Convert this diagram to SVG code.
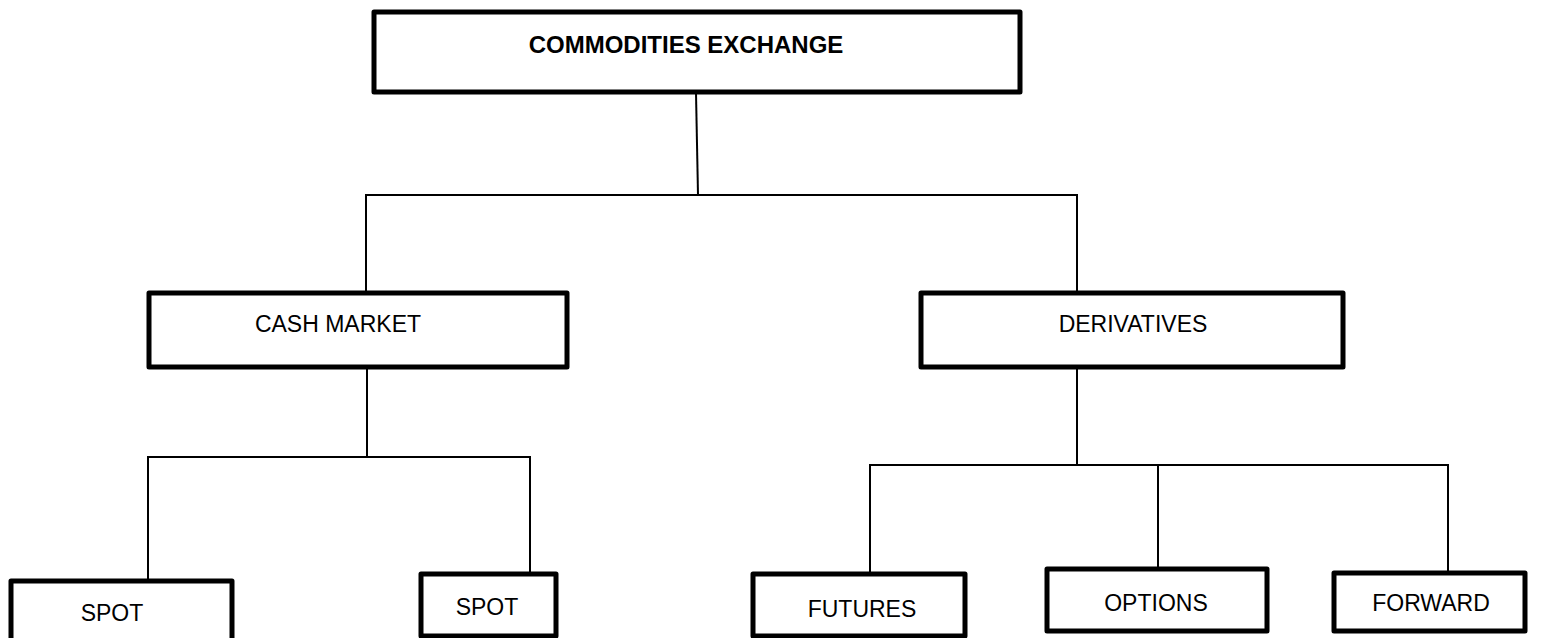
<svg xmlns="http://www.w3.org/2000/svg" width="1543" height="638" viewBox="0 0 1543 638">
<style>
.box{fill:#fff;stroke:#000;stroke-width:5;stroke-linejoin:round}
.conn{stroke:#000;stroke-width:2;fill:none}
.lbl{font-family:"Liberation Sans",Arial,sans-serif;font-size:23px;fill:#000;text-anchor:middle}
.bold{font-weight:bold;font-size:24px}
</style>
<rect width="1543" height="638" fill="#fff"/>
<g id="connectors">
<line class="conn" x1="696" y1="93" x2="698" y2="195"/>
<line class="conn" x1="365" y1="195" x2="1078" y2="195"/>
<line class="conn" x1="366" y1="195" x2="366" y2="292"/>
<line class="conn" x1="1077" y1="195" x2="1077" y2="292"/>
<line class="conn" x1="367" y1="368" x2="367" y2="457"/>
<line class="conn" x1="147" y1="457" x2="531" y2="457"/>
<line class="conn" x1="148" y1="457" x2="148" y2="580"/>
<line class="conn" x1="530" y1="457" x2="530" y2="573"/>
<line class="conn" x1="1077" y1="368" x2="1077" y2="465"/>
<line class="conn" x1="869" y1="465" x2="1449" y2="465"/>
<line class="conn" x1="870" y1="465" x2="870" y2="573"/>
<line class="conn" x1="1158" y1="465" x2="1158" y2="568"/>
<line class="conn" x1="1448" y1="465" x2="1448" y2="576"/>
</g>
<g id="commodities-exchange">
<rect class="box" x="374" y="12" width="646" height="80"/>
<text class="lbl bold" x="686" y="53">COMMODITIES EXCHANGE</text>
</g>
<g id="cash-market">
<rect class="box" x="149" y="293" width="418" height="74"/>
<text class="lbl" x="338" y="332">CASH MARKET</text>
</g>
<g id="derivatives">
<rect class="box" x="921" y="293" width="422" height="74"/>
<text class="lbl" x="1133" y="332">DERIVATIVES</text>
</g>
<g id="spot-1">
<rect class="box" x="11" y="581" width="221" height="64"/>
<text class="lbl" x="112" y="621">SPOT</text>
</g>
<g id="spot-2">
<rect class="box" x="421" y="574" width="135" height="62"/>
<text class="lbl" x="487" y="615">SPOT</text>
</g>
<g id="futures">
<rect class="box" x="753" y="574" width="212" height="62"/>
<text class="lbl" x="862" y="617">FUTURES</text>
</g>
<g id="options">
<rect class="box" x="1047" y="569" width="220" height="62"/>
<text class="lbl" x="1156" y="611">OPTIONS</text>
</g>
<g id="forward">
<rect class="box" x="1334" y="573" width="191" height="58"/>
<text class="lbl" x="1431" y="611">FORWARD</text>
</g>
</svg>
